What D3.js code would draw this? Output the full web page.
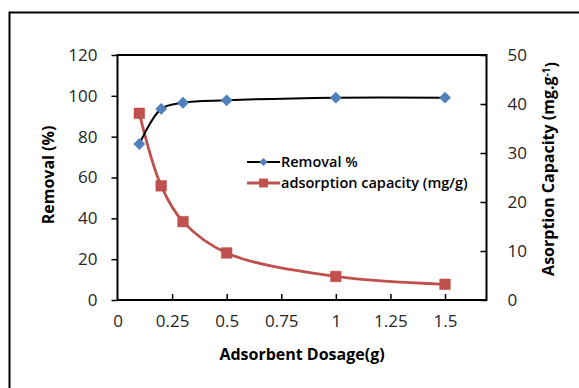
<!DOCTYPE html>
<html>
<head>
<meta charset="utf-8">
<script src="https://cdn.jsdelivr.net/npm/d3@7"></script>
<style>
  html, body { margin: 0; padding: 0; background: #fff; }
  svg { display: block; font-family: "Open Sans", "Noto Sans", sans-serif; }
</style>
</head>
<body>
<svg id="chart" width="579" height="388"></svg>
<script>
// Adsorbent dosage (g)
const dosage = [0.1, 0.2, 0.3, 0.5, 1.0, 1.5];
// Removal efficiency (%)
const removal = [76.4, 93.6, 96.6, 97.8, 99.1, 99.1];
// Adsorption capacity (mg/g)
const capacity = [38.1, 23.3, 16.0, 9.6, 4.8, 3.2];
// Tick labels
const xTicks = [0, 0.25, 0.5, 0.75, 1, 1.25, 1.5];
const yLeftTicks = [0, 20, 40, 60, 80, 100, 120];
const yRightTicks = [0, 10, 20, 30, 40, 50];

const svg = d3.select("#chart");
const plot = { left: 117.5, right: 486.5, top: 55, bottom: 300 };

const x = d3.scaleLinear().domain([0, 1.69]).range([plot.left, plot.right]);
const yL = d3.scaleLinear().domain([0, 120]).range([plot.bottom, plot.top]);
const yR = d3.scaleLinear().domain([0, 50]).range([plot.bottom, plot.top]);

const BLUE = "#4F81BD", RED = "#C0504D", TXT = "#262626";

// Outer frame
svg.append("rect")
  .attr("x", 9.5).attr("y", 12.5).attr("width", 620).attr("height", 420)
  .attr("fill", "none").attr("stroke", "#000").attr("stroke-width", 2);

// Axes
const xAxis = svg.append("g").attr("transform", `translate(0,${plot.bottom})`)
  .call(d3.axisBottom(x).tickValues(xTicks).tickSizeInner(-6).tickSizeOuter(0)
    .tickPadding(15).tickFormat(d => d3.format("")(d)));
const yAxisL = svg.append("g").attr("transform", `translate(${plot.left},0)`)
  .call(d3.axisLeft(yL).tickValues(yLeftTicks).tickSizeInner(6).tickSizeOuter(0).tickPadding(14));
const yAxisR = svg.append("g").attr("transform", `translate(${plot.right},0)`)
  .call(d3.axisRight(yR).tickValues(yRightTicks).tickSizeInner(-6).tickSizeOuter(0).tickPadding(21));

[xAxis, yAxisL, yAxisR].forEach(g => {
  g.selectAll(".domain").remove();
  g.selectAll(".tick line").attr("stroke", "#000").attr("stroke-width", 1.5);
  g.selectAll(".tick text").attr("fill", TXT).style("font-size", "17px")
    .style("font-family", "'Open Sans', 'Noto Sans', sans-serif");
});
xAxis.selectAll(".tick").filter(d => d === 0).select("line").remove();

// Plot frame
svg.append("rect")
  .attr("x", plot.left).attr("y", plot.top)
  .attr("width", plot.right - plot.left).attr("height", plot.bottom - plot.top)
  .attr("fill", "none").attr("stroke", "#000").attr("stroke-width", 2);

// Series lines (smoothed)
const lineL = d3.line().x((d, i) => x(dosage[i])).y(d => yL(d)).curve(d3.curveCatmullRom.alpha(0.5));
const lineR = d3.line().x((d, i) => x(dosage[i])).y(d => yR(d)).curve(d3.curveCatmullRom.alpha(0.5));

svg.append("path").attr("d", lineR(capacity))
  .attr("fill", "none").attr("stroke", RED).attr("stroke-width", 2.8);
svg.append("path").attr("d", lineL(removal))
  .attr("fill", "none").attr("stroke", "#000").attr("stroke-width", 2);

const diamond = d3.symbol().type(d3.symbolDiamond2);
const square = d3.symbol().type(d3.symbolSquare2);

svg.append("g").selectAll("path").data(capacity).join("path")
  .attr("transform", (d, i) => `translate(${x(dosage[i])},${yR(d)})`)
  .attr("d", square.size(12 * 12)())
  .attr("fill", RED).attr("stroke", RED).attr("stroke-width", 0.5);

svg.append("g").selectAll("path").data(removal).join("path")
  .attr("transform", (d, i) => `translate(${x(dosage[i])},${yL(d)})`)
  .attr("d", diamond.size(9.5 * 9.5)())
  .attr("fill", BLUE);

// Legend
const legend = svg.append("g");
const legendItems = [
  { label: "Removal %", color: "#000", marker: BLUE, sym: diamond.size(6.5 * 6.5)(), w: 2, y: 162 },
  { label: "adsorption capacity (mg/g)", color: RED, marker: RED, sym: square.size(10 * 10)(), w: 2.8, y: 183 }
];
legendItems.forEach(it => {
  legend.append("line").attr("x1", 247).attr("x2", 280).attr("y1", it.y).attr("y2", it.y)
    .attr("stroke", it.color).attr("stroke-width", it.w);
  legend.append("path").attr("transform", `translate(263.5,${it.y})`).attr("d", it.sym).attr("fill", it.marker);
  legend.append("text").attr("x", 281).attr("y", it.y).attr("dy", "0.35em")
    .attr("fill", "#000").style("font-size", "14.5px").style("font-weight", 600)
    .text(it.label);
});

// Axis titles
svg.append("text").attr("x", 302).attr("y", 360).attr("text-anchor", "middle")
  .style("font-size", "16px").style("font-weight", 700).attr("fill", "#000")
  .text("Adsorbent Dosage(g)");

svg.append("text").attr("transform", "translate(54,175) rotate(-90)").attr("text-anchor", "middle")
  .style("font-size", "16px").style("font-weight", 700).attr("fill", "#000")
  .text("Removal (%)");

const rt = svg.append("text").attr("transform", "translate(554,169) rotate(-90)").attr("text-anchor", "middle")
  .style("font-size", "16px").style("font-weight", 700).attr("fill", "#000");
rt.append("tspan").text("Asorption Capacity (mg.g");
rt.append("tspan").attr("dy", "-0.45em").style("font-size", "10px").text("-1");
rt.append("tspan").attr("dy", "0.45em").text(")");
</script>
</body>
</html>
